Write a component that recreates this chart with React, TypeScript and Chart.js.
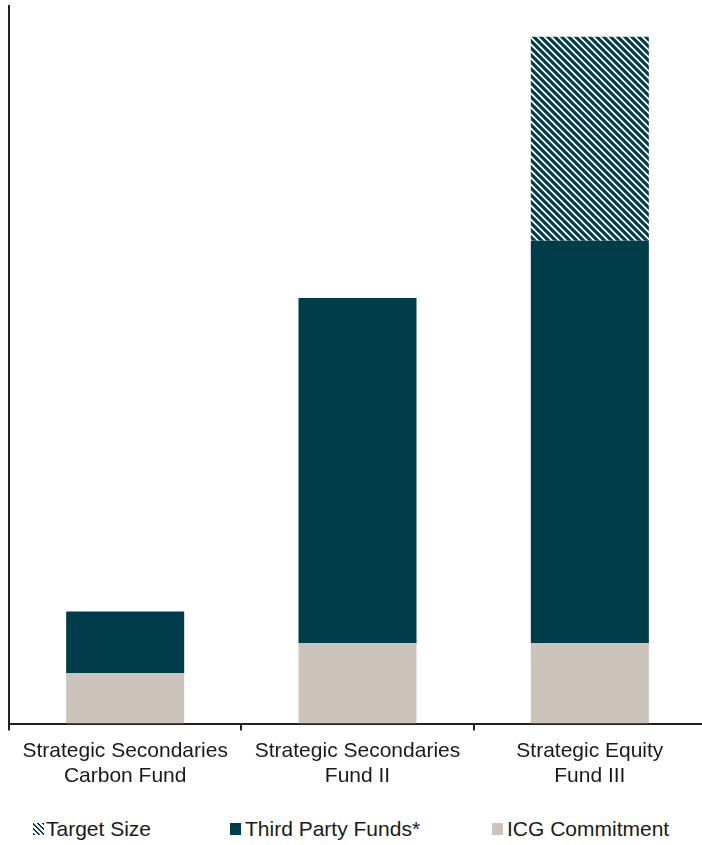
import React, { useEffect, useRef } from "react";
import { Chart, registerables } from "chart.js";

Chart.register(...registerables);

const categories: string[][] = [
  ["Strategic Secondaries", "Carbon Fund"],
  ["Strategic Secondaries", "Fund II"],
  ["Strategic Equity", "Fund III"],
];
const icgCommitment: number[] = [70, 112, 112];
const thirdPartyFunds: number[] = [86, 481, 561];
const targetSize: (number | null)[] = [null, null, 284];
const yMax = 1000;

const DARK = "#003C49";
const LIGHT = "#CBC3BC";
const TEXT = "#1a1a1a";

function makeHatch(): CanvasPattern | string {
  const s = 7;
  const c = document.createElement("canvas");
  c.width = s;
  c.height = s;
  const ctx = c.getContext("2d");
  if (!ctx) return DARK;
  ctx.fillStyle = "#ffffff";
  ctx.fillRect(0, 0, s, s);
  ctx.strokeStyle = DARK;
  ctx.lineWidth = 3.2;
  ctx.beginPath();
  ctx.moveTo(-2, -2);
  ctx.lineTo(s + 2, s + 2);
  ctx.moveTo(-3, s - 3);
  ctx.lineTo(3, s + 3);
  ctx.moveTo(s - 3, -3);
  ctx.lineTo(s + 3, 3);
  ctx.stroke();
  const p = ctx.createPattern(c, "repeat");
  return p || DARK;
}

const legendItems = [
  { label: "Target Size", kind: "hatch", boxX: 33, textX: 46 },
  { label: "Third Party Funds*", kind: "dark", boxX: 230, textX: 245 },
  { label: "ICG Commitment", kind: "light", boxX: 492, textX: 507 },
];

export default function App() {
  const canvasRef = useRef<HTMLCanvasElement | null>(null);

  useEffect(() => {
    document.body.style.margin = "0";
    const canvas = canvasRef.current;
    if (!canvas) return;
    const hatch = makeHatch();
    const chart = new Chart(canvas, {
      type: "bar",
      data: {
        labels: categories,
        datasets: [
          {
            label: "ICG Commitment",
            data: icgCommitment,
            backgroundColor: LIGHT,
            borderWidth: 0,
          },
          {
            label: "Third Party Funds*",
            data: thirdPartyFunds,
            backgroundColor: DARK,
            borderWidth: 0,
          },
          {
            label: "Target Size",
            data: targetSize,
            backgroundColor: hatch as any,
            borderWidth: 0,
          },
        ],
      },
      options: {
        animation: false,
        responsive: false,
        maintainAspectRatio: false,
        datasets: {
          bar: { barPercentage: 0.508, categoryPercentage: 1 },
        },
        layout: { padding: { left: 9, right: 0, top: 6, bottom: 3.5 } },
        plugins: {
          legend: { display: false },
          tooltip: { enabled: false },
        },
        scales: {
          x: {
            stacked: true,
            grid: {
              display: true,
              drawOnChartArea: false,
              drawTicks: true,
              tickLength: 7,
              color: "#222",
              lineWidth: 2,
              offset: true,
            },
            border: { display: true, color: "#222", width: 2 },
            ticks: {
              color: TEXT,
              padding: 8,
              maxRotation: 0,
              autoSkip: false,
              font: { family: "'Liberation Sans', Arial, sans-serif", size: 21, lineHeight: 1.19 },
            },
          },
          y: {
            stacked: true,
            min: 0,
            max: yMax,
            grid: { display: false, drawTicks: false },
            border: { display: true, color: "#222", width: 2 },
            ticks: { display: false },
          },
        },
      },
    });
    return () => chart.destroy();
  }, []);

  const hatchCss =
    "repeating-linear-gradient(45deg, #003C49 0px, #003C49 1.8px, #ffffff 1.8px, #ffffff 3.6px)";

  return (
    <div style={{ position: "relative", width: 702, height: 845, overflow: "hidden", background: "#fff" }}>
      <canvas ref={canvasRef} width={706} height={800} style={{ position: "absolute", left: 0, top: 0, width: 706, height: 800 }} />
      {legendItems.map((it) => (
        <React.Fragment key={it.label}>
          <div
            style={{
              position: "absolute",
              left: it.boxX,
              top: 823,
              width: 11,
              height: 12,
              background: it.kind === "hatch" ? hatchCss : it.kind === "dark" ? DARK : LIGHT,
            }}
          />
          <div
            style={{
              position: "absolute",
              left: it.textX,
              top: 829,
              transform: "translateY(-50%)",
              fontFamily: "'Liberation Sans', Arial, sans-serif",
              fontSize: 21,
              lineHeight: "24px",
              color: TEXT,
              whiteSpace: "nowrap",
            }}
          >
            {it.label}
          </div>
        </React.Fragment>
      ))}
    </div>
  );
}
